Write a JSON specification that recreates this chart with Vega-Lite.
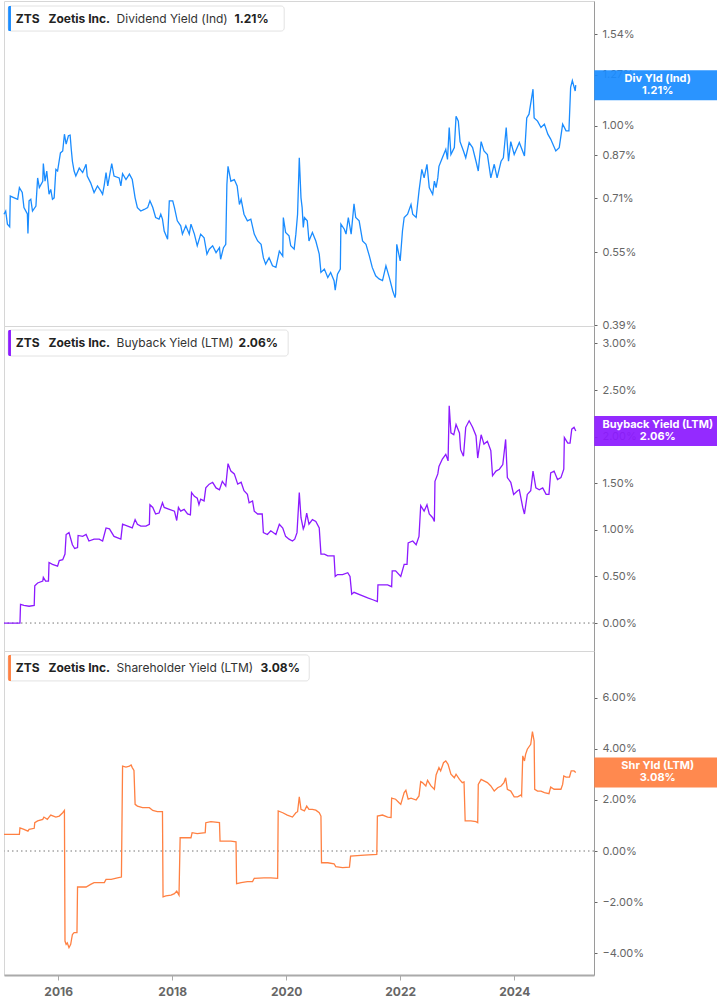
{
"$schema":"https://vega.github.io/schema/vega-lite/v6.json",
"padding":0,
"autosize":{"type":"pad"},
"background":"white",
"spacing":0,
"bounds":"flush",
"config":{"font":"Inter","view":{"stroke":"#d6d6d6","strokeWidth":1},"concat":{"spacing":0}},
"datasets":{
"lab1":[{"ticker":"ZTS","company":"Zoetis Inc.","metric":"Dividend Yield (Ind)","short":"Div Yld (Ind)","v":1.21,"vtxt":"1.21%"}],
"lab2":[{"ticker":"ZTS","company":"Zoetis Inc.","metric":"Buyback Yield (LTM)","short":"Buyback Yield (LTM)","v":2.06,"vtxt":"2.06%"}],
"lab3":[{"ticker":"ZTS","company":"Zoetis Inc.","metric":"Shareholder Yield (LTM)","short":"Shr Yld (LTM)","v":3.08,"vtxt":"3.08%"}],
"div":[
{"year":2015.05,"v":0.658},{"year":2015.08,"v":0.668},{"year":2015.11,"v":0.628},{"year":2015.15,"v":0.620},{"year":2015.16,"v":0.717},{"year":2015.23,"v":0.711},{"year":2015.29,"v":0.706},{"year":2015.32,"v":0.746},{"year":2015.37,"v":0.729},{"year":2015.40,"v":0.679},{"year":2015.46,"v":0.659},{"year":2015.47,"v":0.601},{"year":2015.49,"v":0.701},{"year":2015.52,"v":0.706},{"year":2015.55,"v":0.668},{"year":2015.61,"v":0.684},{"year":2015.64,"v":0.781},{"year":2015.67,"v":0.746},{"year":2015.73,"v":0.769},{"year":2015.74,"v":0.836},{"year":2015.77,"v":0.769},{"year":2015.80,"v":0.807},{"year":2015.84,"v":0.723},{"year":2015.87,"v":0.740},{"year":2015.90,"v":0.706},{"year":2015.93,"v":0.711},{"year":2015.96,"v":0.813},{"year":2015.99,"v":0.807},
{"year":2016.04,"v":0.879},{"year":2016.08,"v":0.887},{"year":2016.11,"v":0.960},{"year":2016.14,"v":0.916},{"year":2016.18,"v":0.953},{"year":2016.21,"v":0.956},{"year":2016.23,"v":0.894},{"year":2016.25,"v":0.845},{"year":2016.28,"v":0.807},{"year":2016.31,"v":0.788},{"year":2016.37,"v":0.818},{"year":2016.43,"v":0.801},{"year":2016.49,"v":0.833},{"year":2016.51,"v":0.788},{"year":2016.57,"v":0.763},{"year":2016.63,"v":0.729},{"year":2016.69,"v":0.752},{"year":2016.75,"v":0.734},{"year":2016.78,"v":0.723},{"year":2016.81,"v":0.757},{"year":2016.84,"v":0.801},{"year":2016.87,"v":0.752},{"year":2016.94,"v":0.836},{"year":2016.98,"v":0.788},
{"year":2017.07,"v":0.781},{"year":2017.10,"v":0.752},{"year":2017.13,"v":0.797},{"year":2017.19,"v":0.775},{"year":2017.25,"v":0.795},{"year":2017.30,"v":0.775},{"year":2017.35,"v":0.711},{"year":2017.39,"v":0.679},{"year":2017.45,"v":0.668},{"year":2017.51,"v":0.673},{"year":2017.57,"v":0.679},{"year":2017.61,"v":0.701},{"year":2017.66,"v":0.679},{"year":2017.71,"v":0.648},{"year":2017.77,"v":0.643},{"year":2017.80,"v":0.658},{"year":2017.83,"v":0.643},{"year":2017.86,"v":0.608},{"year":2017.92,"v":0.585},{"year":2017.95,"v":0.701},
{"year":2018.01,"v":0.701},{"year":2018.04,"v":0.679},{"year":2018.09,"v":0.638},{"year":2018.15,"v":0.623},{"year":2018.18,"v":0.599},{"year":2018.24,"v":0.623},{"year":2018.30,"v":0.599},{"year":2018.33,"v":0.628},{"year":2018.39,"v":0.599},{"year":2018.44,"v":0.567},{"year":2018.50,"v":0.599},{"year":2018.56,"v":0.589},{"year":2018.61,"v":0.545},{"year":2018.65,"v":0.558},{"year":2018.71,"v":0.567},{"year":2018.77,"v":0.549},{"year":2018.83,"v":0.562},{"year":2018.85,"v":0.532},{"year":2018.90,"v":0.562},{"year":2018.94,"v":0.571},{"year":2018.96,"v":0.757},{"year":2018.98,"v":0.825},
{"year":2019.03,"v":0.769},{"year":2019.09,"v":0.775},{"year":2019.14,"v":0.752},{"year":2019.18,"v":0.689},{"year":2019.21,"v":0.706},{"year":2019.26,"v":0.658},{"year":2019.32,"v":0.638},{"year":2019.38,"v":0.643},{"year":2019.44,"v":0.599},{"year":2019.50,"v":0.580},{"year":2019.56,"v":0.571},{"year":2019.60,"v":0.536},{"year":2019.64,"v":0.520},{"year":2019.70,"v":0.536},{"year":2019.76,"v":0.516},{"year":2019.82,"v":0.512},{"year":2019.88,"v":0.553},{"year":2019.94,"v":0.540},{"year":2019.95,"v":0.648},{"year":2019.99,"v":0.604},
{"year":2020.05,"v":0.594},{"year":2020.08,"v":0.567},{"year":2020.14,"v":0.558},{"year":2020.17,"v":0.599},{"year":2020.20,"v":0.658},{"year":2020.23,"v":0.859},{"year":2020.26,"v":0.711},{"year":2020.28,"v":0.679},{"year":2020.30,"v":0.618},{"year":2020.32,"v":0.648},{"year":2020.37,"v":0.638},{"year":2020.40,"v":0.580},{"year":2020.46,"v":0.604},{"year":2020.52,"v":0.580},{"year":2020.58,"v":0.545},{"year":2020.61,"v":0.500},{"year":2020.67,"v":0.508},{"year":2020.73,"v":0.488},{"year":2020.78,"v":0.500},{"year":2020.84,"v":0.481},{"year":2020.86,"v":0.460},{"year":2020.90,"v":0.496},{"year":2020.95,"v":0.508},{"year":2020.96,"v":0.628},
{"year":2021.02,"v":0.613},{"year":2021.05,"v":0.599},{"year":2021.09,"v":0.648},{"year":2021.14,"v":0.599},{"year":2021.19,"v":0.691},{"year":2021.22,"v":0.648},{"year":2021.28,"v":0.638},{"year":2021.34,"v":0.580},{"year":2021.40,"v":0.571},{"year":2021.46,"v":0.540},{"year":2021.51,"v":0.512},{"year":2021.57,"v":0.492},{"year":2021.63,"v":0.485},{"year":2021.69,"v":0.481},{"year":2021.75,"v":0.516},{"year":2021.81,"v":0.488},{"year":2021.87,"v":0.458},{"year":2021.91,"v":0.444},{"year":2021.92,"v":0.451},{"year":2021.94,"v":0.571},
{"year":2022.00,"v":0.528},{"year":2022.04,"v":0.608},{"year":2022.07,"v":0.648},{"year":2022.13,"v":0.658},{"year":2022.19,"v":0.689},{"year":2022.22,"v":0.658},{"year":2022.28,"v":0.648},{"year":2022.33,"v":0.734},{"year":2022.38,"v":0.813},{"year":2022.42,"v":0.781},{"year":2022.47,"v":0.833},{"year":2022.51,"v":0.746},{"year":2022.57,"v":0.723},{"year":2022.60,"v":0.769},{"year":2022.63,"v":0.746},{"year":2022.66,"v":0.781},{"year":2022.68,"v":0.825},{"year":2022.74,"v":0.859},{"year":2022.80,"v":0.894},{"year":2022.83,"v":0.852},{"year":2022.86,"v":0.991},{"year":2022.89,"v":0.872},{"year":2022.95,"v":0.901},{"year":2022.98,"v":1.045},
{"year":2023.02,"v":1.021},{"year":2023.05,"v":0.927},{"year":2023.11,"v":0.887},{"year":2023.15,"v":0.859},{"year":2023.21,"v":0.923},{"year":2023.27,"v":0.901},{"year":2023.33,"v":0.845},{"year":2023.37,"v":0.807},{"year":2023.42,"v":0.927},{"year":2023.47,"v":0.887},{"year":2023.53,"v":0.872},{"year":2023.59,"v":0.781},{"year":2023.65,"v":0.833},{"year":2023.70,"v":0.781},{"year":2023.77,"v":0.845},{"year":2023.81,"v":0.859},{"year":2023.86,"v":0.991},{"year":2023.90,"v":0.845},{"year":2023.94,"v":0.927},
{"year":2024.00,"v":0.872},{"year":2024.09,"v":0.923},{"year":2024.18,"v":0.866},{"year":2024.22,"v":1.037},{"year":2024.26,"v":1.055},{"year":2024.33,"v":1.187},{"year":2024.35,"v":1.037},{"year":2024.41,"v":1.021},{"year":2024.47,"v":0.991},{"year":2024.53,"v":1.007},{"year":2024.59,"v":0.960},{"year":2024.64,"v":0.938},{"year":2024.73,"v":0.887},{"year":2024.79,"v":0.901},{"year":2024.85,"v":1.007},{"year":2024.91,"v":0.975},{"year":2024.96,"v":0.975},{"year":2024.99,"v":1.197},{"year":2025.02,"v":1.236},{"year":2025.07,"v":1.177},{"year":2025.08,"v":1.21}
],
"buy":[
{"year":2015.05,"v":0.00},{"year":2015.33,"v":0.00},{"year":2015.34,"v":0.20},{"year":2015.40,"v":0.19},{"year":2015.49,"v":0.18},{"year":2015.58,"v":0.19},{"year":2015.59,"v":0.40},{"year":2015.64,"v":0.43},{"year":2015.73,"v":0.45},{"year":2015.74,"v":0.49},{"year":2015.78,"v":0.45},{"year":2015.83,"v":0.45},{"year":2015.84,"v":0.65},{"year":2015.90,"v":0.63},{"year":2015.99,"v":0.61},
{"year":2016.02,"v":0.67},{"year":2016.08,"v":0.68},{"year":2016.12,"v":0.74},{"year":2016.14,"v":0.95},{"year":2016.19,"v":0.97},{"year":2016.25,"v":0.84},{"year":2016.29,"v":0.80},{"year":2016.34,"v":0.81},{"year":2016.35,"v":0.94},{"year":2016.43,"v":0.93},{"year":2016.49,"v":0.95},{"year":2016.54,"v":0.88},{"year":2016.63,"v":0.90},{"year":2016.72,"v":0.90},{"year":2016.78,"v":0.88},{"year":2016.84,"v":1.02},{"year":2016.90,"v":1.01},{"year":2016.98,"v":0.93},
{"year":2017.10,"v":0.90},{"year":2017.13,"v":1.06},{"year":2017.22,"v":1.04},{"year":2017.30,"v":1.02},{"year":2017.35,"v":1.11},{"year":2017.39,"v":1.06},{"year":2017.45,"v":1.04},{"year":2017.54,"v":1.04},{"year":2017.60,"v":1.06},{"year":2017.61,"v":1.27},{"year":2017.66,"v":1.24},{"year":2017.71,"v":1.17},{"year":2017.77,"v":1.18},{"year":2017.83,"v":1.29},{"year":2017.86,"v":1.24},{"year":2017.95,"v":1.22},
{"year":2018.04,"v":1.20},{"year":2018.08,"v":1.10},{"year":2018.11,"v":1.24},{"year":2018.15,"v":1.20},{"year":2018.21,"v":1.22},{"year":2018.27,"v":1.17},{"year":2018.32,"v":1.16},{"year":2018.34,"v":1.40},{"year":2018.39,"v":1.36},{"year":2018.44,"v":1.34},{"year":2018.47,"v":1.27},{"year":2018.50,"v":1.33},{"year":2018.56,"v":1.31},{"year":2018.59,"v":1.45},{"year":2018.65,"v":1.49},{"year":2018.71,"v":1.51},{"year":2018.77,"v":1.45},{"year":2018.83,"v":1.43},{"year":2018.88,"v":1.52},{"year":2018.94,"v":1.47},{"year":2018.98,"v":1.71},
{"year":2019.03,"v":1.63},{"year":2019.09,"v":1.60},{"year":2019.15,"v":1.49},{"year":2019.21,"v":1.51},{"year":2019.26,"v":1.42},{"year":2019.32,"v":1.38},{"year":2019.35,"v":1.29},{"year":2019.41,"v":1.31},{"year":2019.44,"v":1.20},{"year":2019.50,"v":1.17},{"year":2019.58,"v":1.17},{"year":2019.60,"v":0.97},{"year":2019.67,"v":0.95},{"year":2019.73,"v":0.99},{"year":2019.82,"v":0.95},{"year":2019.88,"v":1.06},{"year":2019.94,"v":1.02},{"year":2019.99,"v":0.93},
{"year":2020.05,"v":0.90},{"year":2020.11,"v":0.88},{"year":2020.15,"v":0.90},{"year":2020.19,"v":0.97},{"year":2020.23,"v":1.40},{"year":2020.26,"v":1.13},{"year":2020.30,"v":1.01},{"year":2020.32,"v":1.04},{"year":2020.36,"v":1.18},{"year":2020.40,"v":1.06},{"year":2020.46,"v":1.11},{"year":2020.52,"v":1.09},{"year":2020.58,"v":1.02},{"year":2020.61,"v":0.74},{"year":2020.67,"v":0.74},{"year":2020.73,"v":0.72},{"year":2020.84,"v":0.72},{"year":2020.86,"v":0.50},{"year":2020.90,"v":0.52},{"year":2020.99,"v":0.52},
{"year":2021.08,"v":0.54},{"year":2021.12,"v":0.50},{"year":2021.15,"v":0.31},{"year":2021.19,"v":0.33},{"year":2021.31,"v":0.30},{"year":2021.43,"v":0.27},{"year":2021.52,"v":0.25},{"year":2021.60,"v":0.23},{"year":2021.61,"v":0.41},{"year":2021.69,"v":0.41},{"year":2021.78,"v":0.41},{"year":2021.85,"v":0.39},{"year":2021.86,"v":0.56},{"year":2021.92,"v":0.56},
{"year":2022.01,"v":0.50},{"year":2022.07,"v":0.63},{"year":2022.12,"v":0.63},{"year":2022.14,"v":0.86},{"year":2022.22,"v":0.88},{"year":2022.28,"v":0.84},{"year":2022.33,"v":0.93},{"year":2022.36,"v":1.26},{"year":2022.42,"v":1.20},{"year":2022.47,"v":1.27},{"year":2022.51,"v":1.17},{"year":2022.57,"v":1.13},{"year":2022.60,"v":1.09},{"year":2022.61,"v":1.52},{"year":2022.66,"v":1.60},{"year":2022.68,"v":1.68},{"year":2022.74,"v":1.76},{"year":2022.80,"v":1.81},{"year":2022.84,"v":1.74},{"year":2022.86,"v":2.33},{"year":2022.89,"v":2.04},{"year":2022.94,"v":2.02},{"year":2022.98,"v":2.13},
{"year":2023.04,"v":2.04},{"year":2023.06,"v":1.86},{"year":2023.11,"v":1.79},{"year":2023.15,"v":2.10},{"year":2023.21,"v":2.17},{"year":2023.27,"v":2.10},{"year":2023.33,"v":2.01},{"year":2023.36,"v":1.77},{"year":2023.42,"v":2.02},{"year":2023.47,"v":1.92},{"year":2023.53,"v":1.95},{"year":2023.59,"v":1.85},{"year":2023.62,"v":1.58},{"year":2023.68,"v":1.63},{"year":2023.74,"v":1.65},{"year":2023.80,"v":1.70},{"year":2023.85,"v":1.97},{"year":2023.88,"v":1.56},{"year":2023.94,"v":1.51},{"year":2023.99,"v":1.38},
{"year":2024.06,"v":1.42},{"year":2024.09,"v":1.43},{"year":2024.15,"v":1.24},{"year":2024.18,"v":1.17},{"year":2024.23,"v":1.38},{"year":2024.29,"v":1.42},{"year":2024.33,"v":1.63},{"year":2024.38,"v":1.45},{"year":2024.44,"v":1.43},{"year":2024.50,"v":1.45},{"year":2024.56,"v":1.38},{"year":2024.61,"v":1.38},{"year":2024.64,"v":1.61},{"year":2024.70,"v":1.63},{"year":2024.76,"v":1.54},{"year":2024.82,"v":1.56},{"year":2024.87,"v":1.65},{"year":2024.88,"v":1.99},{"year":2024.94,"v":1.93},{"year":2024.98,"v":1.93},{"year":2025.01,"v":2.08},{"year":2025.05,"v":2.10},{"year":2025.08,"v":2.06}
],
"shr":[
{"year":2015.05,"v":0.65},{"year":2015.32,"v":0.65},{"year":2015.33,"v":0.91},{"year":2015.40,"v":0.85},{"year":2015.47,"v":0.78},{"year":2015.49,"v":0.85},{"year":2015.58,"v":0.89},{"year":2015.59,"v":1.11},{"year":2015.64,"v":1.18},{"year":2015.73,"v":1.24},{"year":2015.75,"v":1.33},{"year":2015.81,"v":1.24},{"year":2015.84,"v":1.33},{"year":2015.87,"v":1.41},{"year":2015.96,"v":1.33},
{"year":2016.02,"v":1.37},{"year":2016.08,"v":1.50},{"year":2016.11,"v":1.59},{"year":2016.12,"v":-3.53},{"year":2016.14,"v":-3.66},{"year":2016.16,"v":-3.60},{"year":2016.19,"v":-3.79},{"year":2016.22,"v":-3.66},{"year":2016.25,"v":-3.27},{"year":2016.28,"v":-3.20},{"year":2016.33,"v":-3.20},{"year":2016.34,"v":-1.41},{"year":2016.49,"v":-1.41},{"year":2016.57,"v":-1.31},{"year":2016.63,"v":-1.24},{"year":2016.81,"v":-1.24},{"year":2016.84,"v":-1.11},{"year":2016.93,"v":-1.11},
{"year":2017.04,"v":-1.05},{"year":2017.11,"v":-1.02},{"year":2017.13,"v":3.33},{"year":2017.19,"v":3.29},{"year":2017.25,"v":3.33},{"year":2017.28,"v":3.37},{"year":2017.30,"v":3.27},{"year":2017.33,"v":3.16},{"year":2017.35,"v":1.83},{"year":2017.39,"v":1.76},{"year":2017.48,"v":1.70},{"year":2017.60,"v":1.70},{"year":2017.66,"v":1.59},{"year":2017.74,"v":1.54},{"year":2017.83,"v":1.54},{"year":2017.84,"v":-1.80},{"year":2017.89,"v":-1.76},{"year":2017.98,"v":-1.73},
{"year":2018.04,"v":-1.67},{"year":2018.08,"v":-1.57},{"year":2018.12,"v":-1.73},{"year":2018.14,"v":0.52},{"year":2018.33,"v":0.52},{"year":2018.35,"v":0.72},{"year":2018.44,"v":0.68},{"year":2018.58,"v":0.72},{"year":2018.59,"v":1.11},{"year":2018.68,"v":1.15},{"year":2018.83,"v":1.11},{"year":2018.84,"v":0.39},
{"year":2019.03,"v":0.39},{"year":2019.12,"v":0.36},{"year":2019.13,"v":-1.28},{"year":2019.21,"v":-1.24},{"year":2019.32,"v":-1.20},{"year":2019.41,"v":-1.20},{"year":2019.44,"v":-1.07},{"year":2019.61,"v":-1.05},{"year":2019.73,"v":-1.05},{"year":2019.85,"v":-1.07},{"year":2019.86,"v":1.57},{"year":2019.94,"v":1.50},
{"year":2020.02,"v":1.41},{"year":2020.11,"v":1.33},{"year":2020.17,"v":1.50},{"year":2020.20,"v":1.54},{"year":2020.23,"v":2.12},{"year":2020.26,"v":1.63},{"year":2020.32,"v":1.57},{"year":2020.36,"v":1.76},{"year":2020.40,"v":1.63},{"year":2020.46,"v":1.63},{"year":2020.52,"v":1.60},{"year":2020.58,"v":1.50},{"year":2020.61,"v":1.37},{"year":2020.62,"v":-0.46},{"year":2020.73,"v":-0.46},{"year":2020.84,"v":-0.50},{"year":2020.87,"v":-0.61},{"year":2020.99,"v":-0.65},
{"year":2021.11,"v":-0.63},{"year":2021.13,"v":-0.20},{"year":2021.37,"v":-0.16},{"year":2021.59,"v":-0.13},{"year":2021.60,"v":1.37},{"year":2021.69,"v":1.41},{"year":2021.78,"v":1.33},{"year":2021.84,"v":1.31},{"year":2021.85,"v":2.07},{"year":2021.92,"v":2.03},{"year":2021.98,"v":1.89},
{"year":2022.01,"v":1.83},{"year":2022.07,"v":2.29},{"year":2022.10,"v":2.38},{"year":2022.14,"v":2.03},{"year":2022.19,"v":2.07},{"year":2022.28,"v":2.00},{"year":2022.33,"v":2.16},{"year":2022.36,"v":2.72},{"year":2022.39,"v":2.68},{"year":2022.45,"v":2.55},{"year":2022.48,"v":2.77},{"year":2022.54,"v":2.55},{"year":2022.60,"v":2.42},{"year":2022.63,"v":2.98},{"year":2022.68,"v":3.27},{"year":2022.71,"v":3.14},{"year":2022.76,"v":3.46},{"year":2022.80,"v":3.53},{"year":2022.84,"v":3.40},{"year":2022.89,"v":3.01},{"year":2022.95,"v":2.87},{"year":2022.98,"v":3.01},
{"year":2023.04,"v":2.81},{"year":2023.09,"v":2.68},{"year":2023.12,"v":2.71},{"year":2023.14,"v":1.18},{"year":2023.24,"v":1.18},{"year":2023.33,"v":1.15},{"year":2023.36,"v":1.11},{"year":2023.37,"v":2.61},{"year":2023.42,"v":2.81},{"year":2023.47,"v":2.75},{"year":2023.53,"v":2.68},{"year":2023.59,"v":2.55},{"year":2023.65,"v":2.35},{"year":2023.71,"v":2.48},{"year":2023.77,"v":2.55},{"year":2023.82,"v":2.68},{"year":2023.85,"v":2.87},{"year":2023.88,"v":2.42},{"year":2023.94,"v":2.35},
{"year":2024.00,"v":2.12},{"year":2024.06,"v":2.12},{"year":2024.12,"v":2.20},{"year":2024.13,"v":2.16},{"year":2024.15,"v":3.73},{"year":2024.18,"v":3.53},{"year":2024.20,"v":3.79},{"year":2024.23,"v":3.99},{"year":2024.29,"v":4.18},{"year":2024.32,"v":4.68},{"year":2024.35,"v":4.31},{"year":2024.36,"v":2.42},{"year":2024.41,"v":2.35},{"year":2024.47,"v":2.35},{"year":2024.53,"v":2.29},{"year":2024.61,"v":2.25},{"year":2024.64,"v":2.51},{"year":2024.70,"v":2.42},{"year":2024.82,"v":2.42},{"year":2024.85,"v":2.61},{"year":2024.87,"v":2.94},{"year":2024.91,"v":2.90},{"year":2024.97,"v":2.90},{"year":2025.00,"v":3.14},{"year":2025.05,"v":3.14},{"year":2025.08,"v":3.08}
]
},
"vconcat":[
{
"width":590,"height":325,
"layer":[
{"data":{"name":"div"},"mark":{"type":"line","color":"#1a8cff","strokeWidth":1.3},
 "encoding":{
  "x":{"field":"year","type":"quantitative","scale":{"domain":[2015.05,2025.40],"nice":false,"zero":false},"axis":null},
  "y":{"field":"v","type":"quantitative","scale":{"type":"log","domain":[0.3883,1.80],"nice":false},
   "axis":{"orient":"right","values":[0.39,0.55,0.71,0.87,1.0,1.27,1.54],"labelExpr":"format(datum.value, '.2f') + '%'","title":null,"grid":false,"domainColor":"#9a9a9a","tickColor":"#666","tickSize":3,"labelPadding":5,"labelFontSize":11,"labelColor":"#666","labelFont":"Inter","labelOverlap":false}}}},
{"data":{"name":"lab1"},"mark":{"type":"rect","fill":"white","stroke":"#e2e2e2","strokeWidth":1,"cornerRadius":3},
 "encoding":{"x":{"datum":2015.123,"type":"quantitative"},"x2":{"datum":2019.965},"y":{"datum":1.758,"type":"quantitative"},"y2":{"datum":1.562}}},
{"data":{"name":"lab1"},"mark":{"type":"rect","fill":"#1a8cff","cornerRadiusTopLeft":2,"cornerRadiusBottomLeft":2},
 "encoding":{"x":{"datum":2015.123,"type":"quantitative"},"x2":{"datum":2015.172},"y":{"datum":1.758,"type":"quantitative"},"y2":{"datum":1.562}}},
{"data":{"name":"lab1"},"mark":{"type":"text","align":"left","baseline":"middle","fontWeight":"bold","fontSize":12,"color":"#222","font":"Inter"},
 "encoding":{"x":{"datum":2015.255,"type":"quantitative"},"y":{"datum":1.657,"type":"quantitative"},"text":{"field":"ticker"}}},
{"data":{"name":"lab1"},"mark":{"type":"text","align":"left","baseline":"middle","fontWeight":"bold","fontSize":12,"color":"#222","font":"Inter"},
 "encoding":{"x":{"datum":2015.830,"type":"quantitative"},"y":{"datum":1.657,"type":"quantitative"},"text":{"field":"company"}}},
{"data":{"name":"lab1"},"mark":{"type":"text","align":"left","baseline":"middle","fontWeight":"normal","fontSize":12,"color":"#333","font":"Inter"},
 "encoding":{"x":{"datum":2017.025,"type":"quantitative"},"y":{"datum":1.657,"type":"quantitative"},"text":{"field":"metric"}}},
{"data":{"name":"lab1"},"mark":{"type":"text","align":"left","baseline":"middle","fontWeight":"bold","fontSize":12,"color":"#222","font":"Inter"},
 "encoding":{"x":{"datum":2019.095,"type":"quantitative"},"y":{"datum":1.657,"type":"quantitative"},"text":{"field":"vtxt"}}},
{"data":{"name":"lab1"},"mark":{"type":"tick","orient":"horizontal","size":127,"thickness":30,"color":"#1a8cff","opacity":0.93},
 "encoding":{"x":{"datum":2026.518,"type":"quantitative"},"y":{"field":"v","type":"quantitative"}}},
{"data":{"name":"lab1"},"mark":{"type":"text","align":"center","baseline":"middle","fontWeight":"bold","fontSize":11,"color":"white","font":"Inter","dy":-6},
 "encoding":{"x":{"datum":2026.518,"type":"quantitative"},"y":{"field":"v","type":"quantitative"},"text":{"field":"short"}}},
{"data":{"name":"lab1"},"mark":{"type":"text","align":"center","baseline":"middle","fontWeight":"bold","fontSize":11,"color":"white","font":"Inter","dy":6},
 "encoding":{"x":{"datum":2026.518,"type":"quantitative"},"y":{"field":"v","type":"quantitative"},"text":{"field":"vtxt"}}}
]
},
{
"width":590,"height":325,
"layer":[
{"data":{"name":"lab2"},"mark":{"type":"rule","strokeDash":[1.5,3],"color":"#777","strokeWidth":1},
 "encoding":{"y":{"datum":0,"type":"quantitative"}}},
{"data":{"name":"buy"},"mark":{"type":"line","color":"#8c1aff","strokeWidth":1.3},
 "encoding":{
  "x":{"field":"year","type":"quantitative","scale":{"domain":[2015.05,2025.40],"nice":false,"zero":false},"axis":null},
  "y":{"field":"v","type":"quantitative","scale":{"domain":[-0.30,3.187],"nice":false,"zero":false},
   "axis":{"orient":"right","values":[0,0.5,1,1.5,2,2.5,3],"labelExpr":"format(datum.value, '.2f') + '%'","title":null,"grid":false,"domainColor":"#9a9a9a","tickColor":"#666","tickSize":3,"labelPadding":5,"labelFontSize":11,"labelColor":"#666","labelFont":"Inter","labelOverlap":false}}}},
{"data":{"name":"lab2"},"mark":{"type":"rect","fill":"white","stroke":"#e2e2e2","strokeWidth":1,"cornerRadius":3},
 "encoding":{"x":{"datum":2015.123,"type":"quantitative"},"x2":{"datum":2020.035},"y":{"datum":3.144,"type":"quantitative"},"y2":{"datum":2.865}}},
{"data":{"name":"lab2"},"mark":{"type":"rect","fill":"#8c1aff","cornerRadiusTopLeft":2,"cornerRadiusBottomLeft":2},
 "encoding":{"x":{"datum":2015.123,"type":"quantitative"},"x2":{"datum":2015.172},"y":{"datum":3.144,"type":"quantitative"},"y2":{"datum":2.865}}},
{"data":{"name":"lab2"},"mark":{"type":"text","align":"left","baseline":"middle","fontWeight":"bold","fontSize":12,"color":"#222","font":"Inter"},
 "encoding":{"x":{"datum":2015.255,"type":"quantitative"},"y":{"datum":3.004,"type":"quantitative"},"text":{"field":"ticker"}}},
{"data":{"name":"lab2"},"mark":{"type":"text","align":"left","baseline":"middle","fontWeight":"bold","fontSize":12,"color":"#222","font":"Inter"},
 "encoding":{"x":{"datum":2015.830,"type":"quantitative"},"y":{"datum":3.004,"type":"quantitative"},"text":{"field":"company"}}},
{"data":{"name":"lab2"},"mark":{"type":"text","align":"left","baseline":"middle","fontWeight":"normal","fontSize":12,"color":"#333","font":"Inter"},
 "encoding":{"x":{"datum":2017.025,"type":"quantitative"},"y":{"datum":3.004,"type":"quantitative"},"text":{"field":"metric"}}},
{"data":{"name":"lab2"},"mark":{"type":"text","align":"left","baseline":"middle","fontWeight":"bold","fontSize":12,"color":"#222","font":"Inter"},
 "encoding":{"x":{"datum":2019.165,"type":"quantitative"},"y":{"datum":3.004,"type":"quantitative"},"text":{"field":"vtxt"}}},
{"data":{"name":"lab2"},"mark":{"type":"tick","orient":"horizontal","size":127,"thickness":30,"color":"#8c1aff","opacity":0.93},
 "encoding":{"x":{"datum":2026.518,"type":"quantitative"},"y":{"field":"v","type":"quantitative"}}},
{"data":{"name":"lab2"},"mark":{"type":"text","align":"center","baseline":"middle","fontWeight":"bold","fontSize":11,"color":"white","font":"Inter","dy":-6},
 "encoding":{"x":{"datum":2026.518,"type":"quantitative"},"y":{"field":"v","type":"quantitative"},"text":{"field":"short"}}},
{"data":{"name":"lab2"},"mark":{"type":"text","align":"center","baseline":"middle","fontWeight":"bold","fontSize":11,"color":"white","font":"Inter","dy":6},
 "encoding":{"x":{"datum":2026.518,"type":"quantitative"},"y":{"field":"v","type":"quantitative"},"text":{"field":"vtxt"}}}
]
},
{
"width":590,"height":324,
"layer":[
{"data":{"name":"lab3"},"mark":{"type":"rule","strokeDash":[1.5,3],"color":"#777","strokeWidth":1},
 "encoding":{"y":{"datum":0,"type":"quantitative"}}},
{"data":{"name":"shr"},"mark":{"type":"line","color":"#ff8042","strokeWidth":1.3},
 "encoding":{
  "x":{"field":"year","type":"quantitative","scale":{"domain":[2015.05,2025.40],"nice":false,"zero":false},
   "axis":{"values":[2016,2018,2020,2022,2024],"format":"d","title":null,"grid":false,"labelFontWeight":"bold","labelFontSize":12,"labelColor":"#666","labelFont":"Inter","domainColor":"#aaa","domainWidth":2,"tickColor":"#aaa","tickSize":5,"labelPadding":6}},
  "y":{"field":"v","type":"quantitative","scale":{"domain":[-4.86,7.84],"nice":false,"zero":false},
   "axis":{"orient":"right","values":[-4,-2,0,2,4,6],"labelExpr":"format(datum.value, '.2f') + '%'","title":null,"grid":false,"domainColor":"#9a9a9a","tickColor":"#666","tickSize":3,"labelPadding":5,"labelFontSize":11,"labelColor":"#666","labelFont":"Inter","labelOverlap":false}}}},
{"data":{"name":"lab3"},"mark":{"type":"rect","fill":"white","stroke":"#e2e2e2","strokeWidth":1,"cornerRadius":3},
 "encoding":{"x":{"datum":2015.123,"type":"quantitative"},"x2":{"datum":2020.404},"y":{"datum":7.686,"type":"quantitative"},"y2":{"datum":6.667}}},
{"data":{"name":"lab3"},"mark":{"type":"rect","fill":"#ff8042","cornerRadiusTopLeft":2,"cornerRadiusBottomLeft":2},
 "encoding":{"x":{"datum":2015.123,"type":"quantitative"},"x2":{"datum":2015.172},"y":{"datum":7.686,"type":"quantitative"},"y2":{"datum":6.667}}},
{"data":{"name":"lab3"},"mark":{"type":"text","align":"left","baseline":"middle","fontWeight":"bold","fontSize":12,"color":"#222","font":"Inter"},
 "encoding":{"x":{"datum":2015.255,"type":"quantitative"},"y":{"datum":7.176,"type":"quantitative"},"text":{"field":"ticker"}}},
{"data":{"name":"lab3"},"mark":{"type":"text","align":"left","baseline":"middle","fontWeight":"bold","fontSize":12,"color":"#222","font":"Inter"},
 "encoding":{"x":{"datum":2015.830,"type":"quantitative"},"y":{"datum":7.176,"type":"quantitative"},"text":{"field":"company"}}},
{"data":{"name":"lab3"},"mark":{"type":"text","align":"left","baseline":"middle","fontWeight":"normal","fontSize":12,"color":"#333","font":"Inter"},
 "encoding":{"x":{"datum":2017.025,"type":"quantitative"},"y":{"datum":7.176,"type":"quantitative"},"text":{"field":"metric"}}},
{"data":{"name":"lab3"},"mark":{"type":"text","align":"left","baseline":"middle","fontWeight":"bold","fontSize":12,"color":"#222","font":"Inter"},
 "encoding":{"x":{"datum":2019.551,"type":"quantitative"},"y":{"datum":7.176,"type":"quantitative"},"text":{"field":"vtxt"}}},
{"data":{"name":"lab3"},"mark":{"type":"tick","orient":"horizontal","size":127,"thickness":30,"color":"#ff8042","opacity":0.93},
 "encoding":{"x":{"datum":2026.518,"type":"quantitative"},"y":{"field":"v","type":"quantitative"}}},
{"data":{"name":"lab3"},"mark":{"type":"text","align":"center","baseline":"middle","fontWeight":"bold","fontSize":11,"color":"white","font":"Inter","dy":-6},
 "encoding":{"x":{"datum":2026.518,"type":"quantitative"},"y":{"field":"v","type":"quantitative"},"text":{"field":"short"}}},
{"data":{"name":"lab3"},"mark":{"type":"text","align":"center","baseline":"middle","fontWeight":"bold","fontSize":11,"color":"white","font":"Inter","dy":6},
 "encoding":{"x":{"datum":2026.518,"type":"quantitative"},"y":{"field":"v","type":"quantitative"},"text":{"field":"vtxt"}}}
]
}
]
}
